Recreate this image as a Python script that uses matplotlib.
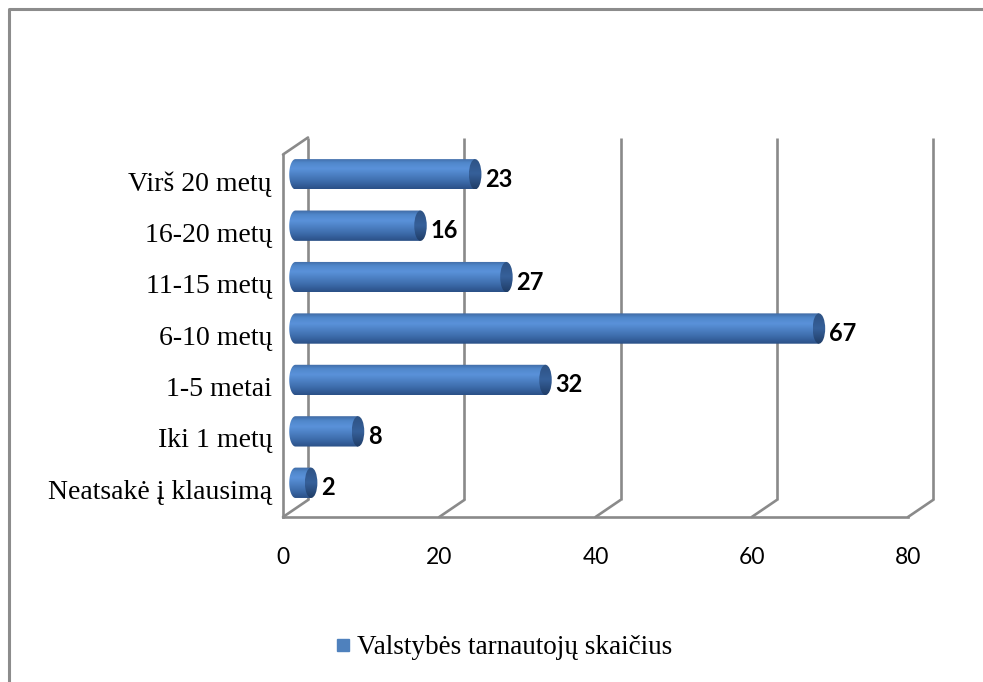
import numpy as np
import matplotlib
matplotlib.use("Agg")
import matplotlib.pyplot as plt
from matplotlib.colors import LinearSegmentedColormap
from matplotlib.patches import PathPatch, Ellipse, ConnectionPatch
from matplotlib.path import Path
from matplotlib.lines import Line2D
from matplotlib.transforms import offset_copy

# data
categories = ["Neatsakė į klausimą", "Iki 1 metų", "1-5 metai", "6-10 metų",
              "11-15 metų", "16-20 metų", "Virš 20 metų"]
values = [2, 8, 32, 67, 27, 16, 23]
xticks = [0, 20, 40, 60, 80]
series_name = "Valstybės tarnautojų skaičius"

SERIF = "Liberation Serif"
SANS = "Lato"
GRID = "#8a8a8a"

body_cmap = LinearSegmentedColormap.from_list(
    "cyl", [(0.0, "#2a4f86"), (0.25, "#3d6cab"), (0.5, "#4f84c8"),
            (0.66, "#5a92da"), (0.85, "#5087cb"), (1.0, "#3f69a2")])
cap_cmap = LinearSegmentedColormap.from_list(
    "cap", [(0.0, "#1f3c66"), (0.5, "#36609a"), (1.0, "#2e5283")])

W, H, DPI = 983, 682, 100
fig = plt.figure(figsize=(W / DPI, H / DPI), dpi=DPI)

# plot plane sits half way between the front edge and the back wall
ppu = 7.8125  # pixels per value unit
x_lo, x_hi = -5, 85
y_lo, y_hi = -0.5, 6.55
left_px = 295.5 + x_lo * ppu
ax = fig.add_axes([left_px / W, (H - 508.5) / H,
                   (x_hi - x_lo) * ppu / W, (508.5 - 146) / H])
ax.set_xlim(x_lo, x_hi)
ax.set_ylim(y_lo, y_hi)
ax.axis("off")

dx, dy = 12.5, 8.5
front = offset_copy(ax.transData, fig=fig, x=-dx, y=-dy, units="dots")
back = offset_copy(ax.transData, fig=fig, x=dx, y=dy, units="dots")

lw = 1.9
# back wall gridlines
for t in xticks:
    ax.plot([t, t], [y_lo, y_hi], color=GRID, lw=lw, transform=back,
            clip_on=False, zorder=1, solid_capstyle="butt")
# front edges of the left wall and the floor
ax.plot([0, 0], [y_lo, y_hi], color=GRID, lw=lw, transform=front, clip_on=False, zorder=1)
ax.plot([0, 80], [y_lo, y_lo], color=GRID, lw=lw, transform=front, clip_on=False, zorder=1)


def depth_line(x, y):
    cp = ConnectionPatch((x, y), (x, y), coordsA=front, coordsB=back,
                         color=GRID, lw=lw, zorder=1, clip_on=False)
    ax.add_artist(cp)


for t in xticks:
    depth_line(t, y_lo)
depth_line(0, y_hi)

# tick labels under the front edge
for t in xticks:
    ax.annotate(str(t), xy=(t, y_lo), xycoords=front, xytext=(0, -40),
                textcoords="offset pixels", ha="center", va="center",
                fontsize=16.5, family=SANS, annotation_clip=False)

# category labels
for i, c in enumerate(categories):
    ax.annotate(c, xy=(0, i), xycoords=front, xytext=(-11, -1),
                textcoords="offset pixels", ha="right", va="center",
                fontsize=20, family=SERIF, annotation_clip=False)


def draw_cylinder(y, v, h=0.59, rx=0.8):
    t = np.linspace(-np.pi / 2, np.pi / 2, 40)
    arc = np.column_stack([-rx * np.cos(t), y + h / 2 * np.sin(t)])
    verts = np.vstack([[v, y - h / 2], arc, [v, y + h / 2], [v, y - h / 2]])
    codes = [Path.MOVETO] + [Path.LINETO] * (len(verts) - 2) + [Path.CLOSEPOLY]
    outline = PathPatch(Path(verts, codes), facecolor="none", edgecolor="none")
    ax.add_patch(outline)
    grad = np.linspace(0, 1, 256).reshape(-1, 1)
    im = ax.imshow(grad, extent=[-rx, v, y - h / 2, y + h / 2], origin="lower",
                   aspect="auto", cmap=body_cmap, interpolation="bicubic", zorder=3)
    im.set_clip_path(outline)
    cap = Ellipse((v, y), 2 * rx, h, facecolor="none", edgecolor="none")
    ax.add_patch(cap)
    im2 = ax.imshow(grad, extent=[v - rx, v + rx, y - h / 2, y + h / 2], origin="lower",
                    aspect="auto", cmap=cap_cmap, interpolation="bicubic", zorder=4)
    im2.set_clip_path(cap)


for i, v in enumerate(values):
    draw_cylinder(i, v)
    ax.annotate(str(v), xy=(v, i), xytext=(10, -5), textcoords="offset pixels",
                ha="left", va="center", fontsize=17, fontweight="bold",
                family=SANS, annotation_clip=False, zorder=5)

ax.set_xlim(x_lo, x_hi)
ax.set_ylim(y_lo, y_hi)

# legend
handle = Line2D([], [], marker="s", linestyle="none", markersize=8.8,
                markerfacecolor="#4f81bd", markeredgecolor="#4f81bd")
fig.legend([handle], [series_name], loc="center", bbox_to_anchor=(0.512, 0.05),
           frameon=False, handlelength=0.6, handletextpad=0.2,
           prop={"family": SERIF, "size": 19.5})

# chart area border (runs off the right and bottom edges)
bx, by = 8.5 / W, 1 - 8.5 / H
fig.add_artist(Line2D([bx, bx, 1.01], [-0.01, by, by], transform=fig.transFigure,
                      color="#8c8c8c", lw=2.2))

fig.savefig("out.png", dpi=DPI)
